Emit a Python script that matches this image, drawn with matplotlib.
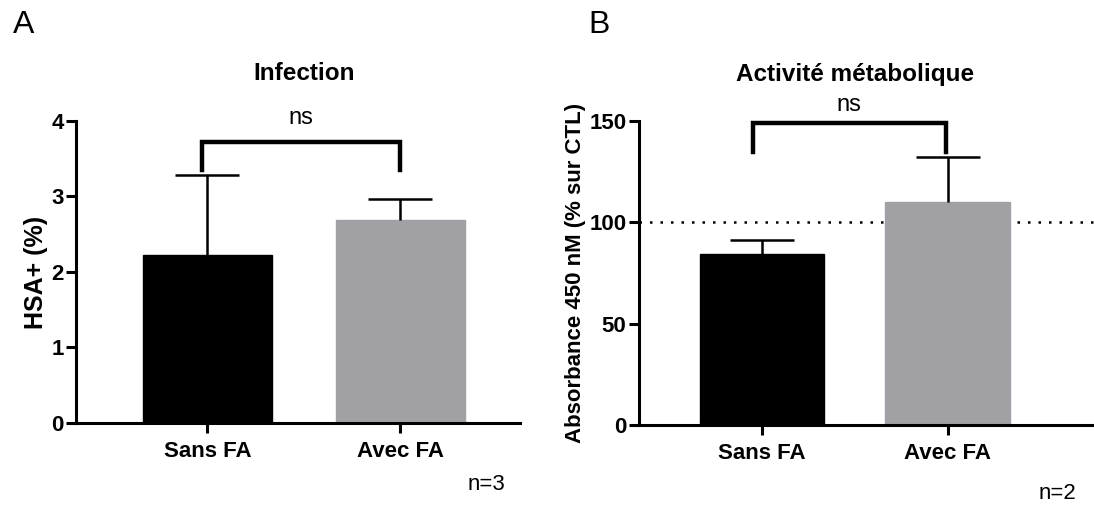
import matplotlib
matplotlib.use("Agg")
import matplotlib.pyplot as plt
import matplotlib.transforms as mtransforms

# panel A: infection
groups = ["Sans FA", "Avec FA"]
infection_mean = [2.22, 2.69]
infection_sd = [1.06, 0.28]

# panel B: metabolic activity
activity_mean = [84.5, 110.0]
activity_sd = [6.8, 22.0]

bar_colors = ["#000000", "#a1a0a5"]

plt.rcParams["font.family"] = ["Liberation Sans", "DejaVu Sans"]

fig = plt.figure(figsize=(10.94, 5.05), dpi=100)
ax_a = fig.add_axes([0.0695, 0.1624, 0.406, 0.598])
ax_b = fig.add_axes([0.584, 0.1584, 0.416, 0.602])


def style_axes(ax, ymax, yticks):
    for side in ("top", "right"):
        ax.spines[side].set_visible(False)
    for side in ("left", "bottom"):
        ax.spines[side].set_linewidth(2.2)
    ax.set_ylim(0, ymax)
    ax.set_yticks(yticks)
    ax.tick_params(axis="both", width=2.2, length=7, labelsize=16, direction="out")
    ax.tick_params(axis="x", pad=6)
    ax.tick_params(axis="y", pad=2)
    for lab in ax.get_xticklabels() + ax.get_yticklabels():
        lab.set_fontweight("bold")


def draw_bars(ax, means, sds, xlim):
    x = list(range(len(means)))
    ax.bar(x, means, width=0.67, color=bar_colors, edgecolor=bar_colors, linewidth=1, zorder=2)
    _, caps, _ = ax.errorbar(x, means, yerr=[[0] * len(sds), sds], fmt="none", ecolor="black",
                             elinewidth=1.8, capsize=23, capthick=1.8, zorder=3)
    caps[0].set_visible(False)  # only the upper cap
    ax.set_xticks(x)
    ax.set_xticklabels(groups)
    ax.set_xlim(*xlim)


def bracket(ax, x0, x1, y_top, y_leg, label, label_y):
    ax.plot([x0, x0, x1, x1], [y_leg, y_top, y_top, y_leg], color="black",
            linewidth=3.2, clip_on=False, solid_joinstyle="miter", zorder=4)
    ax.text((x0 + x1) / 2, label_y, label, ha="center", va="center", fontsize=17)


def title(ax, text):
    trans = mtransforms.blended_transform_factory(ax.transData, fig.transFigure)
    ax.text(0.5, 1 - 74 / 505, text, transform=trans, ha="center", va="center",
            fontsize=17.5, fontweight="bold")


# ---- A
draw_bars(ax_a, infection_mean, infection_sd, (-0.68, 1.62))
style_axes(ax_a, 4, [0, 1, 2, 3, 4])
ax_a.set_ylabel("HSA+ (%)", fontsize=18, fontweight="bold", labelpad=2)
title(ax_a, "Infection")
bracket(ax_a, -0.03, 1.0, 3.72, 3.35, "ns", 4.04)

# ---- B
draw_bars(ax_b, activity_mean, activity_sd, (-0.665, 1.79))
style_axes(ax_b, 150, [0, 50, 100, 150])
ax_b.axhline(100, color="black", linestyle=(0, (1, 3.2)), linewidth=1.8, zorder=1)
ax_b.set_ylabel("Absorbance 450 nM (% sur CTL)", fontsize=16, fontweight="bold", labelpad=2)
title(ax_b, "Activité métabolique")
bracket(ax_b, -0.05, 0.99, 149, 134.5, "ns", 158)

fig.text(0.022, 0.95, "A", fontsize=23, ha="center", va="center")
fig.text(0.548, 0.95, "B", fontsize=23, ha="center", va="center")
fig.text(0.445, 0.04, "n=3", fontsize=16, ha="center", va="center")
fig.text(0.967, 0.022, "n=2", fontsize=16, ha="center", va="center")

fig.savefig("out.png", dpi=100)
